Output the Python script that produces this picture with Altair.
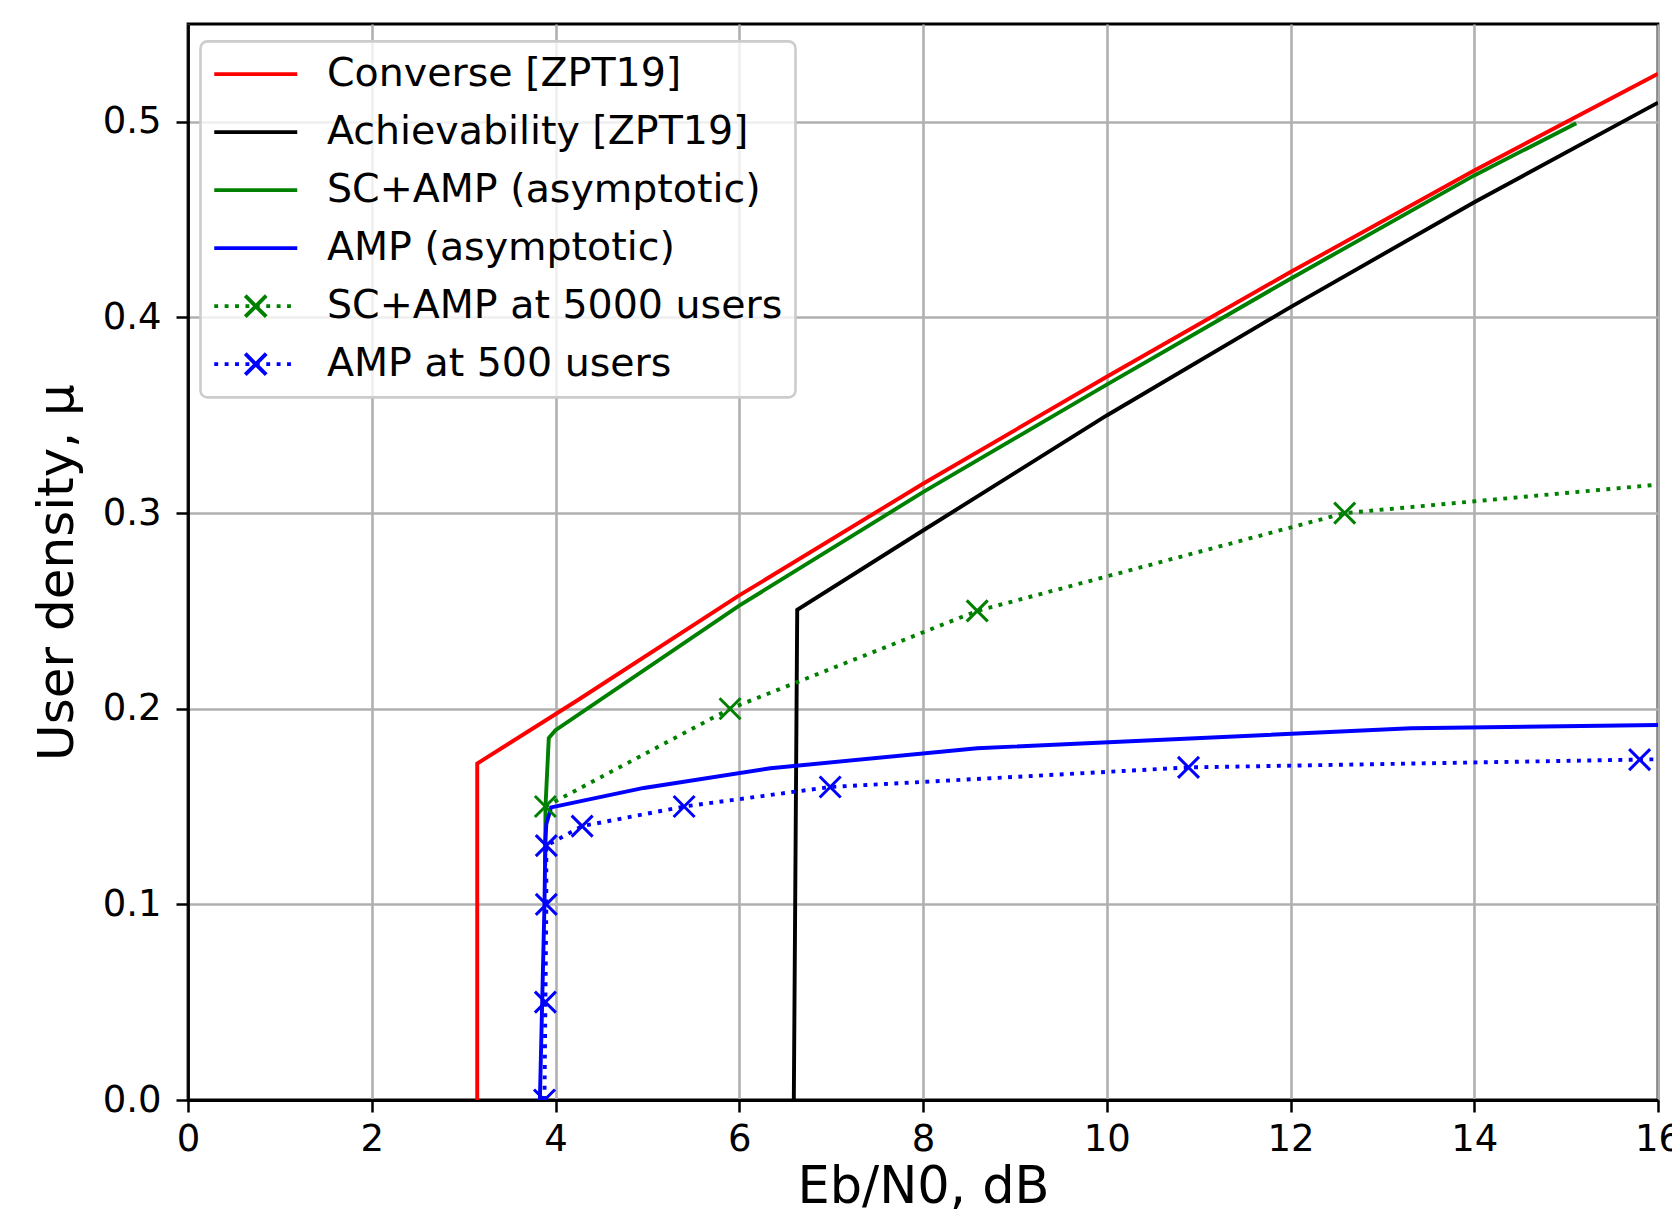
import altair as alt
import pandas as pd

# ---------------- data ----------------
SERIES = [
    "Converse [ZPT19]",
    "Achievability [ZPT19]",
    "SC+AMP (asymptotic)",
    "AMP (asymptotic)",
    "SC+AMP at 5000 users",
    "AMP at 500 users",
]
COLORS = ["#ff0000", "#000000", "#008000", "#0000ff", "#008000", "#0000ff"]

converse_x = [3.148, 3.148, 4.236, 6.0, 8.0, 10.0, 12.0, 14.0, 16.0]
converse_y = [0.0, 0.172, 0.2042, 0.2579, 0.315, 0.3697, 0.4232, 0.4751, 0.5246]

achiev_x = [6.594, 6.631, 8.0, 10.0, 12.0, 14.0, 16.0]
achiev_y = [0.0, 0.2505, 0.2911, 0.3499, 0.4053, 0.4589, 0.5098]

scamp_x = [3.888, 3.891, 3.927, 4.0, 6.0, 8.0, 10.0, 12.0, 14.0, 15.11]
scamp_y = [0.12, 0.15, 0.185, 0.189, 0.2527, 0.3107, 0.3657, 0.4198, 0.4726, 0.4993]

amp_x = [3.83, 3.855, 3.88, 3.89, 3.90, 3.953, 4.961, 6.34, 8.59, 13.31, 16.0]
amp_y = [0.0, 0.05, 0.1, 0.133, 0.141, 0.1496, 0.1595, 0.1696, 0.1798, 0.19, 0.1917]

scamp5000_x = [3.89, 5.90, 8.59, 12.59, 24.3]
scamp5000_y = [0.15, 0.20, 0.25, 0.30, 0.35]

amp500_x = [3.88, 3.89, 3.90, 3.90, 4.29, 5.40, 6.99, 10.89, 15.80, 23.0]
amp500_y = [0.0, 0.05, 0.10, 0.13, 0.14, 0.15, 0.16, 0.17, 0.174, 0.18]

x_ticks = [0, 2, 4, 6, 8, 10, 12, 14, 16]
y_ticks = [0.0, 0.1, 0.2, 0.3, 0.4, 0.5]


def frame(name, xs, ys):
    return pd.DataFrame({"series": name, "x": xs, "y": ys, "i": list(range(len(xs)))})


solid_df = pd.concat([
    frame(SERIES[0], converse_x, converse_y),
    frame(SERIES[1], achiev_x, achiev_y),
    frame(SERIES[2], scamp_x, scamp_y),
    frame(SERIES[3], amp_x, amp_y),
], ignore_index=True)

dotted_df = pd.concat([
    frame(SERIES[4], scamp5000_x, scamp5000_y),
    frame(SERIES[5], amp500_x, amp500_y),
], ignore_index=True)

# ---------------- styles ----------------
LW = 3.9
DASH = [3.9, 6.45]
XMARK = "M-1,-1L1,1M-1,1L1,-1"

# legend symbols drawn as paths (unit = 14 px)
U = 14.0
C0 = 233.0  # page x of the legend symbol centre


def ux(px):
    return round((px - C0) / U, 4)


LINE_PATH = f"M{ux(214)},0L{ux(297)},0"
dots = []
for k in range(8):
    s = 214 + k * 10.4
    dots.append(f"M{ux(s)},0L{ux(s + 3.9)},0")
xc = ux(255.5)
a = round(10.5 / U, 4)
DOT_PATH = "".join(dots) + f"M{xc - a},{-a}L{xc + a},{a}M{xc - a},{a}L{xc + a},{-a}"

sym_expr = (
    "indexof(['SC+AMP at 5000 users','AMP at 500 users'], datum.value) >= 0 ? '"
    + DOT_PATH + "' : '" + LINE_PATH + "'"
)

legend = alt.Legend(
    title=None,
    orient="none",
    legendX=12.5,
    legendY=17.4,
    symbolType={"expr": sym_expr},
    symbolSize=U * U * 4,
    symbolStrokeWidth=LW,
    labelFont="DejaVu Sans",
    labelFontSize=39.5,
    labelColor="black",
    labelLimit=2000,
    labelOffset=74,
    rowPadding=17,
    padding=13,
    strokeColor="#cccccc",
    fillColor="rgba(255,255,255,0.8)",
    cornerRadius=7,
)

xscale = alt.Scale(domain=[0, 16], nice=False, zero=False)
yscale = alt.Scale(domain=[0, 0.55], nice=False, zero=False)

xaxis = alt.Axis(
    values=x_ticks, format="d", title="Eb/N0, dB",
    labelPadding=9, labelFlush=False, labelOverlap=False,
    titleY=102, titleBaseline="alphabetic",
)
yaxis = alt.Axis(
    values=y_ticks, format=".1f", title="User density, μ",
    labelPadding=15, labelFlush=False, labelOverlap=False,
    titleX=-115.5, titleY=548, titleBaseline="alphabetic", titleAngle=270,
    titleFontSize=50,
)

X = alt.X("x:Q", scale=xscale, axis=xaxis)
Y = alt.Y("y:Q", scale=yscale, axis=yaxis)

solid = alt.Chart(solid_df).mark_line(strokeWidth=LW, clip=True).encode(
    x=X, y=Y,
    color=alt.Color("series:N", scale=alt.Scale(domain=SERIES, range=COLORS), legend=legend),
    order=alt.Order("i:Q"),
)

dot_stroke = alt.Stroke(
    "series:N", scale=alt.Scale(domain=SERIES[4:], range=COLORS[4:]), legend=None
)

dotted = alt.Chart(dotted_df).mark_line(strokeWidth=LW, strokeDash=DASH, clip=True).encode(
    x=X, y=Y, stroke=dot_stroke, order=alt.Order("i:Q"),
)

markers = alt.Chart(dotted_df).mark_point(
    shape=XMARK, size=441, strokeWidth=3.0, filled=False, opacity=1, clip=True
).encode(x=X, y=Y, stroke=dot_stroke)

chart = (
    alt.layer(solid, dotted, markers)
    .properties(
        width=1470,
        height=1076,
        autosize=alt.AutoSizeParams(type="none"),
        padding={"left": 180, "top": 16, "right": 14, "bottom": 115},
    )
    .configure(font="DejaVu Sans")
    .configure_axis(
        labelFont="DejaVu Sans", labelFontSize=37, labelColor="black",
        titleFont="DejaVu Sans", titleFontSize=51, titleFontWeight="normal", titleColor="black",
        domainColor="black", domainWidth=2.8,
        tickColor="black", tickWidth=2.5, tickSize=12,
        gridColor="#b0b0b0", gridWidth=2.6, gridOpacity=1,
    )
    .configure_legend(strokeWidth=2.6)
    .configure_view(stroke="black", strokeWidth=2.8)
)

chart.save("out.html", embed_options={"renderer": "svg", "actions": False})
